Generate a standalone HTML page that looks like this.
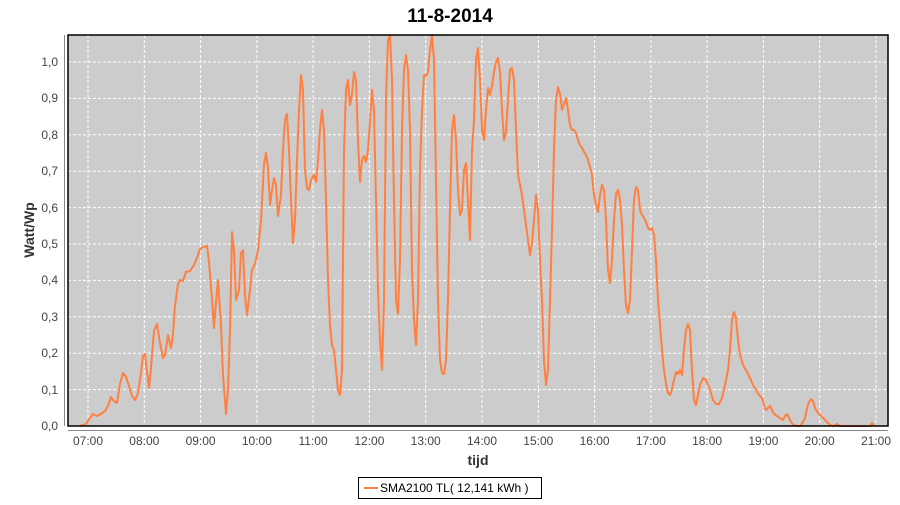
<!DOCTYPE html>
<html><head><style>
body{margin:0;background:#fff;}
svg text{font-family:"Liberation Sans",sans-serif;}
</style></head><body>
<svg width="900" height="500" xmlns="http://www.w3.org/2000/svg">
<rect width="900" height="500" fill="#fff"/>
<text x="450" y="22" text-anchor="middle" font-size="19" font-weight="bold">11-8-2014</text>
<rect x="68" y="35" width="820" height="391" fill="#cccccc"/>
<g stroke="#fff" stroke-width="1" stroke-dasharray="3,2">
<line x1="68" x2="888" y1="389.6" y2="389.6"/><line x1="68" x2="888" y1="353.2" y2="353.2"/><line x1="68" x2="888" y1="316.8" y2="316.8"/><line x1="68" x2="888" y1="280.4" y2="280.4"/><line x1="68" x2="888" y1="244" y2="244"/><line x1="68" x2="888" y1="207.6" y2="207.6"/><line x1="68" x2="888" y1="171.2" y2="171.2"/><line x1="68" x2="888" y1="134.8" y2="134.8"/><line x1="68" x2="888" y1="98.4" y2="98.4"/><line x1="68" x2="888" y1="62" y2="62"/>
<line y1="35" y2="426" x1="88" x2="88"/><line y1="35" y2="426" x1="144.3" x2="144.3"/><line y1="35" y2="426" x1="200.6" x2="200.6"/><line y1="35" y2="426" x1="256.9" x2="256.9"/><line y1="35" y2="426" x1="313.1" x2="313.1"/><line y1="35" y2="426" x1="369.4" x2="369.4"/><line y1="35" y2="426" x1="425.7" x2="425.7"/><line y1="35" y2="426" x1="482" x2="482"/><line y1="35" y2="426" x1="538.3" x2="538.3"/><line y1="35" y2="426" x1="594.6" x2="594.6"/><line y1="35" y2="426" x1="650.9" x2="650.9"/><line y1="35" y2="426" x1="707.1" x2="707.1"/><line y1="35" y2="426" x1="763.4" x2="763.4"/><line y1="35" y2="426" x1="819.7" x2="819.7"/><line y1="35" y2="426" x1="876" x2="876"/>
</g>
<polyline fill="none" stroke="#ff8040" stroke-width="2" stroke-linejoin="round" points="80,426 86,424 90,418 93,414 97,416 101,414 105,411 108,406 111,397 114,401 117,403 120,384 123,373 126,377 129,386 132,396 135,400 138,393 141,373 143,356 145,354 147,372 149,388 151,368 154,331 157,324 160,343 163,358 165,355 168,335 171,348 173,334 175,306 178,284 180,280 183,281 186,272 190,271 194,265 197,258 200,249 203,247 207,246 209,262 212,300 214,328 216,302 218,280 221,325 223,375 226,414 228,390 230,330 232,232 234,250 236,300 239,290 241,253 243,250 245,295 247,315 250,290 252,270 255,264 258,250 261,220 264,164 266,153 268,168 270,205 272,190 274,178 276,185 278,216 281,195 283,150 285,120 287,114 289,150 291,200 293,243 295,220 297,160 299,110 301,75 303,90 305,170 307,188 309,190 311,180 314,175 316,182 318,160 320,130 322,110 324,130 326,200 328,280 330,325 332,345 334,350 336,370 338,390 340,395 342,370 344,150 346,90 348,80 350,105 352,95 354,72 356,80 358,140 360,182 362,160 364,156 366,162 368,150 370,122 372,90 374,110 376,200 378,290 380,340 382,370 384,300 386,100 388,40 390,35 392,80 394,200 396,300 398,314 400,260 402,130 404,70 406,55 408,70 410,130 412,270 414,320 416,345 418,300 420,170 422,110 424,75 426,76 428,72 430,50 432,35 434,60 436,180 438,300 440,360 442,373 444,374 446,360 448,300 450,210 452,130 454,115 456,140 458,190 460,215 462,210 464,170 466,163 468,200 470,240 472,150 474,120 476,60 478,48 480,80 482,130 484,140 486,110 488,88 490,95 492,86 494,72 496,62 498,58 500,72 502,110 504,140 506,132 508,100 510,70 512,68 514,80 516,130 518,175 520,185 522,195 524,210 526,225 528,240 530,255 532,243 534,220 536,195 538,210 540,260 542,300 544,360 546,385 548,370 550,300 552,230 554,150 556,100 558,87 560,94 562,110 564,104 566,98 568,110 570,125 572,130 574,130 576,133 578,140 580,145 582,148 584,152 586,155 588,160 590,167 592,175 594,195 596,205 598,212 600,195 602,185 604,190 606,220 608,270 610,283 612,260 614,220 616,194 618,190 620,200 622,225 624,270 626,305 628,313 630,300 632,250 634,200 636,187 638,190 640,210 642,215 644,218 646,222 648,228 650,230 652,228 654,235 656,260 658,300 660,325 662,350 664,370 666,384 668,393 670,395 672,389 674,380 676,372 678,374 680,370 682,375 684,350 686,330 688,324 690,330 692,370 694,400 696,405 698,395 700,385 703,378 706,380 710,390 713,400 716,404 719,404 722,398 725,385 728,370 730,350 732,320 734,312 736,318 738,340 740,355 743,365 747,372 750,378 753,385 756,390 759,395 762,398 764,405 766,410 768,408 770,406 772,410 774,414 777,416 780,418 783,420 785,416 787,414 790,420 793,425 797,426 800,426 803,422 805,418 807,408 809,402 811,399 813,401 815,408 818,413 822,417 826,421 830,425 834,426 837,424 840,426 870,426 872,423 874,426"/>
<rect x="68" y="35" width="820" height="391" fill="none" stroke="#000" stroke-width="1.5"/>
<line x1="64.5" y1="35" x2="64.5" y2="426" stroke="#888"/>
<line x1="68" y1="430.5" x2="888" y2="430.5" stroke="#888"/>
<g font-size="12" fill="#444" text-anchor="end">
<text x="58" y="430">0,0</text><text x="58" y="394">0,1</text><text x="58" y="357">0,2</text><text x="58" y="321">0,3</text><text x="58" y="284">0,4</text><text x="58" y="248">0,5</text><text x="58" y="212">0,6</text><text x="58" y="175">0,7</text><text x="58" y="139">0,8</text><text x="58" y="102">0,9</text><text x="58" y="66">1,0</text>
</g>
<g font-size="12" fill="#444" text-anchor="middle">
<text x="88" y="445">07:00</text><text x="144.3" y="445">08:00</text><text x="200.6" y="445">09:00</text><text x="256.9" y="445">10:00</text><text x="313.1" y="445">11:00</text><text x="369.4" y="445">12:00</text><text x="425.7" y="445">13:00</text><text x="482" y="445">14:00</text><text x="538.3" y="445">15:00</text><text x="594.6" y="445">16:00</text><text x="650.9" y="445">17:00</text><text x="707.1" y="445">18:00</text><text x="763.4" y="445">19:00</text><text x="819.7" y="445">20:00</text><text x="876" y="445">21:00</text>
</g>
<text x="478" y="465" text-anchor="middle" font-size="14" font-weight="bold" fill="#333">tijd</text>
<text transform="translate(34,230) rotate(-90)" text-anchor="middle" font-size="14" font-weight="bold" fill="#333">Watt/Wp</text>
<rect x="358.5" y="477.5" width="183" height="21" fill="#fff" stroke="#000"/>
<line x1="364" y1="488" x2="378" y2="488" stroke="#ff8040" stroke-width="2"/>
<text x="380" y="492" font-size="12" fill="#000">SMA2100 TL( 12,141 kWh )</text>
</svg>
</body></html>
